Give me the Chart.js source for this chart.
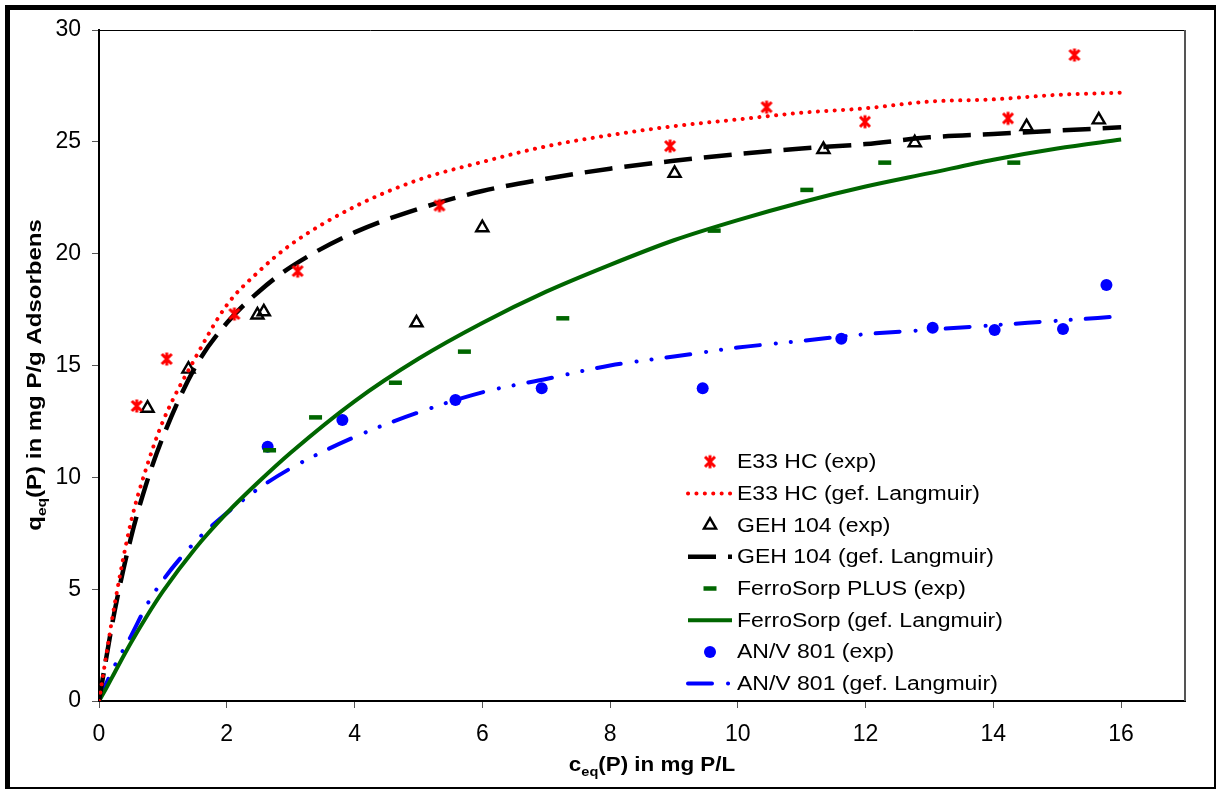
<!DOCTYPE html>
<html>
<head>
<meta charset="utf-8">
<script src="https://cdn.jsdelivr.net/npm/chart.js@4.4.1/dist/chart.umd.min.js"></script>
<style>
  body { margin: 0; background: #fff; }
  canvas { display: block; }
</style>
</head>
<body>
<canvas id="myChart" width="1218" height="790"></canvas>
<script>
// Messwerte (exp)
const e33C = [0.59, 1.06, 2.12, 3.11, 5.33, 8.94, 10.45, 11.99, 14.23, 15.27];
const e33Q = [13.19, 15.29, 17.30, 19.22, 22.15, 24.81, 26.55, 25.90, 26.05, 28.88];

const gehC = [0.76, 1.40, 2.48, 2.58, 4.97, 6.00, 9.01, 11.34, 12.77, 14.52, 15.65];
const gehQ = [13.09, 14.84, 17.26, 17.40, 16.91, 21.16, 23.59, 24.66, 24.96, 25.68, 25.98];

const ferroC = [2.67, 3.39, 4.64, 5.72, 7.26, 9.63, 11.08, 12.30, 14.32];
const ferroQ = [11.21, 12.68, 14.23, 15.62, 17.11, 21.03, 22.85, 24.07, 24.07];

const anvC = [2.64, 3.81, 5.58, 6.93, 9.45, 11.62, 13.05, 14.02, 15.09, 15.77];
const anvQ = [11.37, 12.56, 13.46, 13.98, 13.98, 16.20, 16.69, 16.59, 16.63, 18.60];

// gefittete Langmuir-Kurven
const fitC = [0, 0.1, 0.25, 0.5, 0.75, 1, 1.5, 2, 2.5, 3, 4, 5, 6, 7, 8, 9, 10, 11, 12, 13, 14, 15, 16];
const e33Fit = [0, 1.8, 4.4, 8.0, 10.5, 12.5, 15.3, 17.7, 19.2, 20.4, 22.1, 23.3, 24.1, 24.8, 25.3, 25.7, 26.0, 26.3, 26.5, 26.8, 26.9, 27.1, 27.2];
const gehFit = [0, 1.7, 4.1, 7.3, 9.8, 11.8, 14.9, 16.9, 18.3, 19.4, 20.95, 22.0, 22.8, 23.35, 23.8, 24.15, 24.45, 24.7, 24.9, 25.2, 25.35, 25.5, 25.65];
const ferroFit = [0, 0.5, 1.3, 2.6, 3.8, 4.9, 6.8, 8.4, 9.8, 11.1, 13.4, 15.3, 16.9, 18.3, 19.5, 20.6, 21.5, 22.3, 23.0, 23.6, 24.2, 24.7, 25.1];
const anvFit = [0, 0.7, 1.6, 2.9, 4.3, 5.4, 7.1, 8.4, 9.5, 10.4, 11.8, 12.9, 13.8, 14.4, 15.0, 15.4, 15.8, 16.1, 16.4, 16.6, 16.8, 17.0, 17.2];

// Achsen
const xTicks = [0, 2, 4, 6, 8, 10, 12, 14, 16];
const yTicks = [0, 5, 10, 15, 20, 25, 30];

const labels = [
    'E33 HC (exp)', 'E33 HC (gef. Langmuir)',
    'GEH 104 (exp)', 'GEH 104 (gef. Langmuir)',
    'FerroSorp PLUS (exp)', 'FerroSorp (gef. Langmuir)',
    'AN/V 801 (exp)', 'AN/V 801 (gef. Langmuir)'
];

const pts = (xs, ys) => xs.map((x, i) => ({ x: x, y: ys[i] }));

// Excel-Sternmarker (x mit senkrechtem Strich)
const star = document.createElement('canvas');
star.width = 16; star.height = 16;
const sc = star.getContext('2d');
sc.strokeStyle = '#ff0000';
sc.lineWidth = 3;
sc.beginPath();
sc.moveTo(3, 3); sc.lineTo(13, 13);
sc.moveTo(13, 3); sc.lineTo(3, 13);
sc.moveTo(8, 1.5); sc.lineTo(8, 14.5);
sc.stroke();

const FONT = '"Liberation Sans", Arial, sans-serif';

const scatter = (label, data, extra) => Object.assign({
    label: label, data: data, showLine: false
}, extra);

const fitLine = (label, data, color, width, dash, cap) => ({
    label: label, data: data, showLine: true,
    borderColor: color, backgroundColor: color,
    borderWidth: width, borderDash: dash, borderCapStyle: cap,
    pointRadius: 0, pointHoverRadius: 0,
    cubicInterpolationMode: 'monotone', fill: false
});

const datasets = [
    scatter(labels[0], pts(e33C, e33Q), { pointStyle: star, pointRadius: 8 }),
    fitLine(labels[1], pts(fitC, e33Fit), '#ff0000', 4, [0.1, 8.3], 'round'),
    scatter(labels[2], pts(gehC, gehQ), {
        pointStyle: 'triangle', pointRadius: 7, borderColor: '#000', borderWidth: 2.4,
        backgroundColor: 'rgba(0,0,0,0)'
    }),
    fitLine(labels[3], pts(fitC, gehFit), '#000000', 4.5, [28, 12], 'butt'),
    scatter(labels[4], pts(ferroC, ferroQ), {
        pointStyle: 'line', pointRadius: 6.5, borderColor: '#006600', borderWidth: 4.5
    }),
    fitLine(labels[5], pts(fitC, ferroFit), '#006600', 4, [], 'butt'),
    scatter(labels[6], pts(anvC, anvQ), {
        pointStyle: 'circle', pointRadius: 6, borderColor: '#0000ff', borderWidth: 0,
        backgroundColor: '#0000ff'
    }),
    fitLine(labels[7], pts(fitC, anvFit), '#0000ff', 4, [24, 16, 0.1, 15, 0.1, 15], 'round')
];

// Rahmen, Plotrahmen, Achsentitel, Legende
const decor = {
    id: 'decor',
    beforeDraw(chart) {
        const ctx = chart.ctx;
        ctx.save();
        ctx.fillStyle = '#fff';
        ctx.fillRect(0, 0, chart.width, chart.height);
        ctx.fillStyle = '#000';
        ctx.fillRect(5, 5, 1211, 5);
        ctx.fillRect(5, 5, 5, 784);
        ctx.fillRect(5, 787, 1211, 2);
        ctx.fillRect(1214, 5, 2, 784);
        ctx.restore();
    },
    afterDraw(chart) {
        const ctx = chart.ctx;
        const a = chart.chartArea;
        ctx.save();
        // Plotrahmen oben/rechts
        ctx.strokeStyle = '#000';
        ctx.lineWidth = 1;
        ctx.beginPath();
        ctx.moveTo(a.left, a.top + 0.5); ctx.lineTo(a.right, a.top + 0.5);
        ctx.stroke();
        ctx.strokeStyle = '#555';
        ctx.lineWidth = 2;
        ctx.beginPath();
        ctx.moveTo(a.right, a.top); ctx.lineTo(a.right, a.bottom);
        ctx.stroke();

        // Achsentitel mit Index
        const subTitle = (main, sub, rest, cx, cy, rot, stretch) => {
            ctx.save();
            ctx.translate(cx, cy);
            ctx.rotate(rot);
            ctx.scale(stretch, 1);
            ctx.fillStyle = '#000';
            ctx.textBaseline = 'alphabetic';
            ctx.font = 'bold 20px ' + FONT;
            const w1 = ctx.measureText(main).width;
            const w3 = ctx.measureText(rest).width;
            ctx.font = 'bold 13px ' + FONT;
            const w2 = ctx.measureText(sub).width;
            let x = -(w1 + w2 + w3) / 2;
            ctx.font = 'bold 20px ' + FONT;
            ctx.fillText(main, x, 0);
            x += w1;
            ctx.font = 'bold 13px ' + FONT;
            ctx.fillText(sub, x, 5);
            x += w2;
            ctx.font = 'bold 20px ' + FONT;
            ctx.fillText(rest, x, 0);
            ctx.restore();
        };
        subTitle('c', 'eq', '(P) in mg P/L', 652, 771, 0, 1.12);
        subTitle('q', 'eq', '(P) in mg P/g Adsorbens', 41, 375, -Math.PI / 2, 1.2);

        // Legende
        chart.data.datasets.forEach((ds, i) => {
            const y = 461.7 + i * 31.7;
            if (ds.showLine) {
                ctx.save();
                ctx.strokeStyle = ds.borderColor;
                ctx.lineWidth = ds.borderWidth;
                ctx.setLineDash(ds.borderDash);
                ctx.lineCap = ds.borderCapStyle;
                ctx.beginPath();
                ctx.moveTo(688, y); ctx.lineTo(732, y);
                ctx.stroke();
                ctx.restore();
            } else {
                ctx.save();
                ctx.fillStyle = ds.backgroundColor || '#000';
                ctx.strokeStyle = ds.borderColor || '#000';
                ctx.lineWidth = ds.borderWidth || 0;
                Chart.helpers.drawPoint(ctx, {
                    pointStyle: ds.pointStyle, radius: ds.pointRadius,
                    rotation: 0, borderWidth: ds.borderWidth || 0
                }, 710, y);
                ctx.restore();
            }
            ctx.save();
            ctx.translate(737, y);
            ctx.scale(1.15, 1);
            ctx.fillStyle = '#000';
            ctx.font = '20px ' + FONT;
            ctx.textBaseline = 'middle';
            ctx.fillText(ds.label, 0, 1);
            ctx.restore();
        });
        ctx.restore();
    }
};

const ctx_chart = document.getElementById('myChart').getContext('2d');
const myChart = new Chart(ctx_chart, {
    type: 'scatter',
    data: { datasets: datasets },
    options: {
        responsive: false,
        animation: false,
        layout: { padding: { left: 0, top: 30, right: 33, bottom: 0 } },
        plugins: {
            legend: { display: false },
            tooltip: { enabled: false }
        },
        scales: {
            x: {
                type: 'linear', min: 0, max: 17,
                afterBuildTicks: s => { s.ticks = xTicks.map(v => ({ value: v })); },
                afterFit: s => { s.height = 89; },
                grid: { drawOnChartArea: false, drawTicks: true, tickLength: 7, color: '#555', lineWidth: 1 },
                border: { display: true, color: '#000', width: 2 },
                ticks: { color: '#000', font: { family: FONT, size: 23 }, padding: 13, maxRotation: 0 }
            },
            y: {
                type: 'linear', min: 0, max: 30,
                afterBuildTicks: s => { s.ticks = yTicks.map(v => ({ value: v })); },
                afterFit: s => { s.width = 99; },
                grid: { drawOnChartArea: false, drawTicks: true, tickLength: 7, color: '#555', lineWidth: 1 },
                border: { display: true, color: '#000', width: 2 },
                ticks: { color: '#000', font: { family: FONT, size: 23 }, padding: 11 }
            }
        }
    },
    plugins: [decor]
});
</script>
</body>
</html>
